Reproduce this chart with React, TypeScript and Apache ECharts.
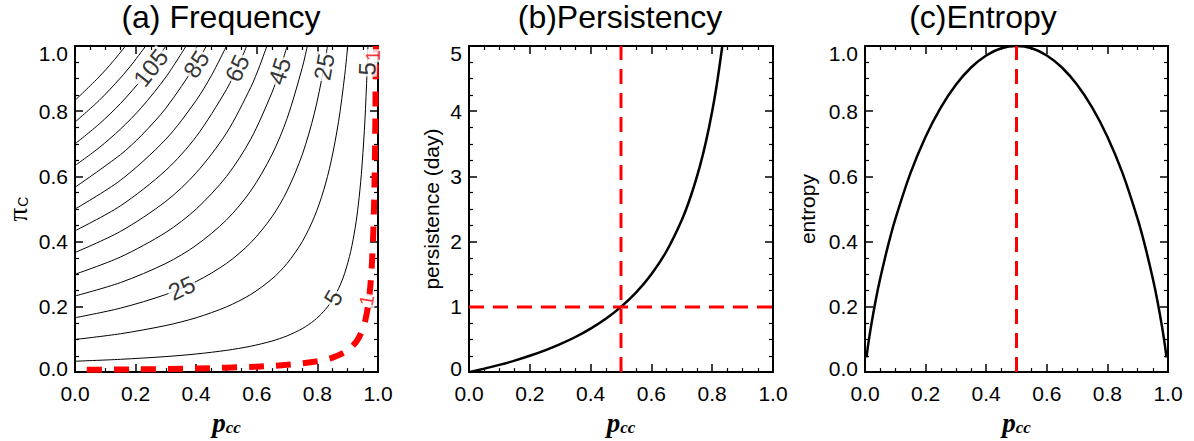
import React, { useEffect, useRef } from "react";
import * as echarts from "echarts";

// ---------- Panel (a): contour levels and their traced lines [p_cc, pi_C] ----------
const contourLevels = [5, 15, 25, 35, 45, 55, 65, 75, 85, 95, 105, 115, 125];
const contour5 = [[0, 0.0333], [0.15, 0.0392], [0.3, 0.0476], [0.4, 0.0556], [0.5, 0.0667], [0.58, 0.0794], [0.65, 0.0952], [0.7, 0.1111], [0.75, 0.1333], [0.79, 0.1587], [0.82, 0.1852], [0.845, 0.2151], [0.87, 0.2564], [0.89, 0.303], [0.91, 0.3704], [0.925, 0.4444], [0.935, 0.5128], [0.945, 0.6061], [0.955, 0.7407], [0.962, 0.8772], [0.9667, 1.0]];
const contour15 = [[0, 0.1], [0.15, 0.1176], [0.3, 0.1429], [0.4, 0.1667], [0.5, 0.2], [0.58, 0.2381], [0.65, 0.2857], [0.7, 0.3333], [0.75, 0.4], [0.79, 0.4762], [0.82, 0.5556], [0.845, 0.6452], [0.87, 0.7692], [0.89, 0.9091], [0.9, 1.0]];
const contour25 = [[0, 0.1667], [0.15, 0.1961], [0.3, 0.2381], [0.4, 0.2778], [0.5, 0.3333], [0.58, 0.3968], [0.65, 0.4762], [0.7, 0.5556], [0.75, 0.6667], [0.79, 0.7937], [0.82, 0.9259], [0.8333, 1.0]];
const contour35 = [[0, 0.2333], [0.15, 0.2745], [0.3, 0.3333], [0.4, 0.3889], [0.5, 0.4667], [0.58, 0.5556], [0.65, 0.6667], [0.7, 0.7778], [0.75, 0.9333], [0.7667, 1.0]];
const contour45 = [[0, 0.3], [0.15, 0.3529], [0.3, 0.4286], [0.4, 0.5], [0.5, 0.6], [0.58, 0.7143], [0.65, 0.8571], [0.675, 0.9231], [0.7, 1.0]];
const contour55 = [[0, 0.3667], [0.15, 0.4314], [0.3, 0.5238], [0.4, 0.6111], [0.5, 0.7333], [0.58, 0.873], [0.61, 0.9402], [0.6333, 1.0]];
const contour65 = [[0, 0.4333], [0.15, 0.5098], [0.3, 0.619], [0.4, 0.7222], [0.5, 0.8667], [0.54, 0.942], [0.5667, 1.0]];
const contour75 = [[0, 0.5], [0.15, 0.5882], [0.3, 0.7143], [0.4, 0.8333], [0.45, 0.9091], [0.5, 1.0]];
const contour85 = [[0, 0.5667], [0.15, 0.6667], [0.22, 0.7265], [0.3, 0.8095], [0.4, 0.9444], [0.4333, 1.0]];
const contour95 = [[0, 0.6333], [0.08, 0.6884], [0.15, 0.7451], [0.22, 0.812], [0.3, 0.9048], [0.3667, 1.0]];
const contour105 = [[0, 0.7], [0.08, 0.7609], [0.15, 0.8235], [0.23, 0.9091], [0.3, 1.0]];
const contour115 = [[0, 0.7667], [0.08, 0.8333], [0.15, 0.902], [0.19, 0.9465], [0.2333, 1.0]];
const contour125 = [[0, 0.8333], [0.08, 0.9058], [0.125, 0.9524], [0.1667, 1.0]];
const contourLines = [contour5, contour15, contour25, contour35, contour45, contour55, contour65, contour75, contour85, contour95, contour105, contour115, contour125];
// red dashed "1" contour
const contour1 = [[0, 0.0067], [0.2, 0.0083], [0.4, 0.0111], [0.6, 0.0167], [0.7, 0.0222], [0.8, 0.0333], [0.85, 0.0444], [0.9, 0.0667], [0.93, 0.0952], [0.95, 0.1333], [0.96, 0.1667], [0.97, 0.2222], [0.977, 0.2899], [0.983, 0.3922], [0.987, 0.5128], [0.99, 0.6667], [0.9933, 1.0]];

// contour labels
const labelTexts = ["105", "85", "65", "45", "25", "5", "25", "5"];
const labelPos = [[0.25, 0.933], [0.4, 0.944], [0.535, 0.932], [0.675, 0.923], [0.822, 0.936], [0.964, 0.93], [0.352, 0.258], [0.852, 0.228]];
const labelAngles = [52, 58, 65, 72, 80, 88, 25, 60];
const redLabelTexts = ["1", "1"];
const redLabelPos = [[0.985, 0.97], [0.962, 0.22]];
const redLabelAngles = [90, 80];

// ---------- Panel (b): persistence ----------
const persistP = [0, 0.05, 0.1, 0.15, 0.2, 0.25, 0.3, 0.35, 0.4, 0.45, 0.5, 0.55, 0.6, 0.65, 0.7, 0.73, 0.76, 0.78, 0.8, 0.815, 0.8333];
const persistVal = [0, 0.053, 0.111, 0.176, 0.25, 0.333, 0.429, 0.538, 0.667, 0.818, 1.0, 1.222, 1.5, 1.857, 2.333, 2.704, 3.167, 3.545, 4.0, 4.405, 5.0];
const refP = 0.5;
const refPersist = 1;

// ---------- Panel (c): entropy ----------
const entropyP = [0.005, 0.01, 0.02, 0.035, 0.05, 0.075, 0.1, 0.15, 0.2, 0.25, 0.3, 0.35, 0.4, 0.45, 0.5, 0.55, 0.6, 0.65, 0.7, 0.75, 0.8, 0.85, 0.9, 0.925, 0.95, 0.965, 0.98, 0.99, 0.995];
const entropyVal = [0.045, 0.081, 0.141, 0.219, 0.286, 0.384, 0.469, 0.61, 0.722, 0.811, 0.881, 0.934, 0.971, 0.993, 1.0, 0.993, 0.971, 0.934, 0.881, 0.811, 0.722, 0.61, 0.469, 0.384, 0.286, 0.219, 0.141, 0.081, 0.045];
const refEntropyP = 0.5;

const titles = ["(a) Frequency", "(b)Persistency", "(c)Entropy"];

const SANS = "Liberation Sans";
const SERIF = "Liberation Serif";

function xAxis(gridIndex: number, top: boolean) {
  return {
    type: "value",
    gridIndex,
    position: top ? "top" : "bottom",
    min: 0,
    max: 1,
    interval: 0.2,
    axisLine: { show: true, onZero: false, lineStyle: { color: "#000", width: 2 } },
    axisTick: { show: true, inside: true, length: 8, lineStyle: { color: "#000", width: 1.5 } },
    minorTick: { show: true, splitNumber: 4, length: 4, lineStyle: { color: "#000", width: 1.2 } },
    splitLine: { show: false },
    axisLabel: top
      ? { show: false }
      : { show: true, margin: 11, fontSize: 21, fontFamily: SANS, color: "#000", formatter: (v: number) => v.toFixed(1) },
    name: top ? "" : "{p|p}{s|cc}",
    nameLocation: "middle",
    nameGap: 34,
    nameTextStyle: {
      rich: {
        p: { fontFamily: SERIF, fontStyle: "italic", fontWeight: "bold", fontSize: 27, color: "#000" },
        s: { fontFamily: SERIF, fontStyle: "italic", fontWeight: "bold", fontSize: 17, color: "#000", padding: [10, 0, 0, 0] },
      },
    },
  };
}

function yAxis(gridIndex: number, right: boolean, max: number, interval: number, digits: number, name: string, nameGap: number, rich: any) {
  const labelRich = {
    lo: { fontSize: 21, fontFamily: SANS, color: "#000", padding: [0, 0, 8, 0] },
    hi: { fontSize: 21, fontFamily: SANS, color: "#000", padding: [15, 0, 0, 0] },
    mid: { fontSize: 21, fontFamily: SANS, color: "#000" },
  };
  return {
    type: "value",
    gridIndex,
    position: right ? "right" : "left",
    min: 0,
    max,
    interval,
    axisLine: { show: true, onZero: false, lineStyle: { color: "#000", width: 2 } },
    axisTick: { show: true, inside: true, length: 8, lineStyle: { color: "#000", width: 1.5 } },
    minorTick: { show: true, splitNumber: 4, length: 4, lineStyle: { color: "#000", width: 1.2 } },
    splitLine: { show: false },
    axisLabel: right
      ? { show: false }
      : {
          show: true,
          margin: 7,
          fontSize: 21,
          fontFamily: SANS,
          color: "#000",
          rich: labelRich,
          formatter: (v: number) => {
            const t = v.toFixed(digits);
            if (Math.abs(v) < 1e-9) return "{lo|" + t + "}";
            if (Math.abs(v - max) < 1e-9) return "{hi|" + t + "}";
            return "{mid|" + t + "}";
          },
        },
    name: right ? "" : name,
    nameLocation: "middle",
    nameGap,
    nameTextStyle: { fontFamily: SANS, fontSize: 21, color: "#000", rich },
  };
}

export default function App() {
  const ref = useRef<HTMLDivElement>(null);
  useEffect(() => {
    if (!ref.current) return;
    const chart = echarts.init(ref.current, undefined, { renderer: "svg" });
    const grids = [
      { left: 75, top: 46, width: 303, height: 331 },
      { left: 469, top: 46, width: 304, height: 331 },
      { left: 865, top: 46, width: 303, height: 331 },
    ];
    const xAxes = [xAxis(0, false), xAxis(0, true), xAxis(1, false), xAxis(1, true), xAxis(2, false), xAxis(2, true)];
    const piRich = {
      a: { fontFamily: SERIF, fontSize: 27, color: "#000" },
      b: { fontFamily: SANS, fontSize: 14, color: "#000", padding: [10, 0, 0, 1] },
    };
    const yAxes = [
      yAxis(0, false, 1, 0.2, 1, "{a|π}{b|C}", 44, piRich),
      yAxis(0, true, 1, 0.2, 1, "", 0, undefined),
      yAxis(1, false, 5, 1, 0, "persistence (day)", 27, undefined),
      yAxis(1, true, 5, 1, 0, "", 0, undefined),
      yAxis(2, false, 1, 0.2, 1, "entropy", 47, undefined),
      yAxis(2, true, 1, 0.2, 1, "", 0, undefined),
    ];

    const series: any[] = [];
    contourLines.forEach((line, i) => {
      series.push({
        type: "line",
        name: "f=" + contourLevels[i],
        xAxisIndex: 0,
        yAxisIndex: 0,
        data: line,
        symbol: "none",
        smooth: 0.3,
        silent: true,
        z: 2,
        lineStyle: { color: "#000", width: 1 },
      });
    });
    series.push({
      type: "line",
      name: "f=1",
      xAxisIndex: 0,
      yAxisIndex: 0,
      data: contour1,
      symbol: "none",
      smooth: 0.3,
      clip: false,
      silent: true,
      z: 3,
      lineStyle: { color: "#ff0000", width: 6, type: [15, 12], dashOffset: 15 },
    });
    series.push({
      type: "scatter",
      xAxisIndex: 0,
      yAxisIndex: 0,
      symbolSize: 0,
      silent: true,
      z: 6,
      data: labelPos.map((v, i) => ({ value: v, label: { rotate: labelAngles[i], formatter: labelTexts[i] } })),
      label: { show: true, position: "inside", color: "#000", fontSize: 24, fontFamily: SANS, backgroundColor: "#fff", padding: [0, 1], lineHeight: 20 },
    });
    series.push({
      type: "scatter",
      xAxisIndex: 0,
      yAxisIndex: 0,
      symbolSize: 0,
      silent: true,
      z: 7,
      data: redLabelPos.map((v, i) => ({ value: v, label: { rotate: redLabelAngles[i], formatter: redLabelTexts[i] } })),
      label: { show: true, position: "inside", color: "#ff0000", fontSize: 20, fontFamily: SANS, backgroundColor: "#fff", padding: [0, 1], lineHeight: 18 },
    });
    // panel b
    series.push({
      type: "line",
      xAxisIndex: 2,
      yAxisIndex: 2,
      data: persistP.map((p, i) => [p, persistVal[i]]),
      symbol: "none",
      smooth: 0.3,
      silent: true,
      z: 3,
      lineStyle: { color: "#000", width: 2.5 },
    });
    series.push({
      type: "line",
      xAxisIndex: 2,
      yAxisIndex: 2,
      data: [[refP, 0], [refP, 5]],
      symbol: "none",
      silent: true,
      z: 4,
      lineStyle: { color: "#ff0000", width: 3, type: [15, 9] },
    });
    series.push({
      type: "line",
      xAxisIndex: 2,
      yAxisIndex: 2,
      data: [[0, refPersist], [1, refPersist]],
      symbol: "none",
      silent: true,
      z: 4,
      lineStyle: { color: "#ff0000", width: 3, type: [15, 9] },
    });
    // panel c
    series.push({
      type: "line",
      xAxisIndex: 4,
      yAxisIndex: 4,
      data: entropyP.map((p, i) => [p, entropyVal[i]]),
      symbol: "none",
      smooth: 0.3,
      silent: true,
      z: 3,
      lineStyle: { color: "#000", width: 2.5 },
    });
    series.push({
      type: "line",
      xAxisIndex: 4,
      yAxisIndex: 4,
      data: [[refEntropyP, 0], [refEntropyP, 1]],
      symbol: "none",
      silent: true,
      z: 4,
      lineStyle: { color: "#ff0000", width: 3, type: [15, 9] },
    });

    const titleX = [221, 620, 983];
    chart.setOption({
      animation: false,
      backgroundColor: "#fff",
      grid: grids,
      xAxis: xAxes,
      yAxis: yAxes,
      series,
      graphic: titles.map((t, i) => ({
        type: "text",
        x: titleX[i],
        y: 17,
        silent: true,
        style: { text: t, fontSize: 32, fontFamily: SANS, fill: "#000", align: "center", verticalAlign: "middle" },
      })),
    });
    return () => chart.dispose();
  }, []);
  return <div ref={ref} style={{ position: "fixed", left: 0, top: 0, width: 1194, height: 441, background: "#fff" }} />;
}
